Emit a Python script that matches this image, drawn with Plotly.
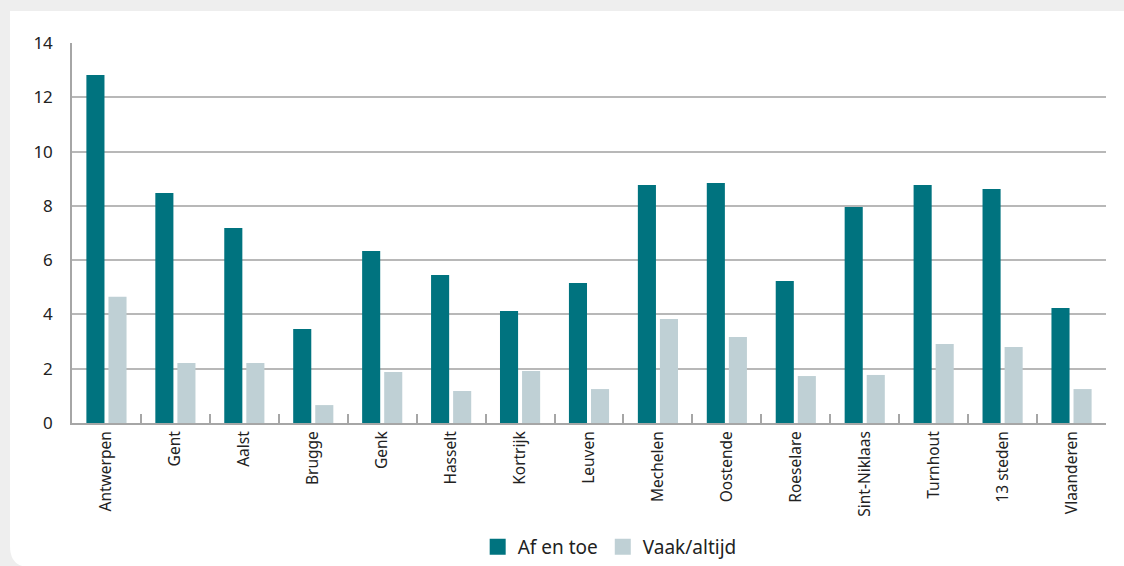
"""Af en toe / vaak-altijd per stad."""

import plotly.graph_objects as go

steden = [
    "Antwerpen", "Gent", "Aalst", "Brugge", "Genk", "Hasselt", "Kortrijk",
    "Leuven", "Mechelen", "Oostende", "Roeselare", "Sint-Niklaas",
    "Turnhout", "13 steden", "Vlaanderen",
]
af_en_toe = [12.82, 8.47, 7.18, 3.46, 6.34, 5.45, 4.13, 5.16, 8.77, 8.84,
             5.23, 7.96, 8.77, 8.62, 4.24]
vaak_altijd = [4.65, 2.21, 2.21, 0.66, 1.88, 1.18, 1.92, 1.25, 3.83, 3.17,
               1.73, 1.77, 2.91, 2.80, 1.25]
y_ticks = [0, 2, 4, 6, 8, 10, 12, 14]

TEAL = "#00737F"
LICHT = "#BFD0D5"

W, H = 1124, 566
M = {"l": 72, "r": 18, "t": 43, "b": 143, "autoexpand": False}


def _px(x, y):
    """Pixel -> paper coördinaten."""
    pw = W - M["l"] - M["r"]
    ph = H - M["t"] - M["b"]
    return (x - M["l"]) / pw, (H - M["b"] - y) / ph


# wit paneel met afgeronde hoek linksonder
x0, y0 = _px(10, 11)
x1, _ = _px(W + 5, 0)
xr, yr = _px(30, H - 20)
_, ybot = _px(10, H + 1)
panel = (
    f"M {x0},{y0} L {x1},{y0} L {x1},{ybot} L {xr},{ybot} "
    f"Q {x0},{ybot} {x0},{yr} Z"
)

fig = go.Figure()
fig.add_trace(go.Bar(
    x=steden, y=af_en_toe, name="Af en toe", showlegend=False,
    marker={"color": TEAL, "line": {"width": 0}},
))
fig.add_trace(go.Bar(
    x=steden, y=vaak_altijd, name="Vaak/altijd", showlegend=False,
    marker={"color": LICHT, "line": {"width": 0}},
))
# legende met grotere vierkantjes
for naam, kleur in [("Af en toe", TEAL), ("Vaak/altijd", LICHT)]:
    fig.add_trace(go.Scatter(
        x=[None], y=[None], mode="markers", name=naam,
        marker={"symbol": "square", "size": 18, "color": kleur},
    ))

fig.add_shape(
    type="path", path=panel, xref="paper", yref="paper",
    fillcolor="white", line={"width": 0}, layer="below",
)

fig.update_layout(
    width=W, height=H,
    margin=M,
    paper_bgcolor="#EEEEEE",
    plot_bgcolor="rgba(0,0,0,0)",
    font={"family": "Noto Sans, Open Sans, sans-serif", "color": "#222222"},
    barmode="group",
    bargap=0.36,
    bargroupgap=0.18,
    showlegend=True,
    legend={
        "orientation": "h", "x": 0.52, "xanchor": "center",
        "y": -0.326, "yanchor": "middle", "font": {"size": 19},
        "itemwidth": 30, "bgcolor": "rgba(0,0,0,0)",
    },
)
fig.update_xaxes(
    tickangle=-90, tickfont={"size": 15.5}, automargin=False,
    showline=True, linecolor="#A6A6A6", linewidth=2,
    ticks="inside", tickson="boundaries", ticklen=9,
    tickcolor="#A6A6A6", tickwidth=1.5,
    showgrid=False,
)
fig.update_yaxes(
    range=[0, 14], tickvals=y_ticks, tickfont={"size": 17}, automargin=False,
    showline=True, linecolor="#A6A6A6", linewidth=1.5,
    gridcolor="#B8B8B8", gridwidth=1.5,
    zeroline=False, ticks="", ticklabelstandoff=14,
)

fig.write_html(
    "out.html",
    config={"displayModeBar": False},
    post_script="document.body.style.margin='0';"
    "document.body.style.overflow='hidden';",
)
